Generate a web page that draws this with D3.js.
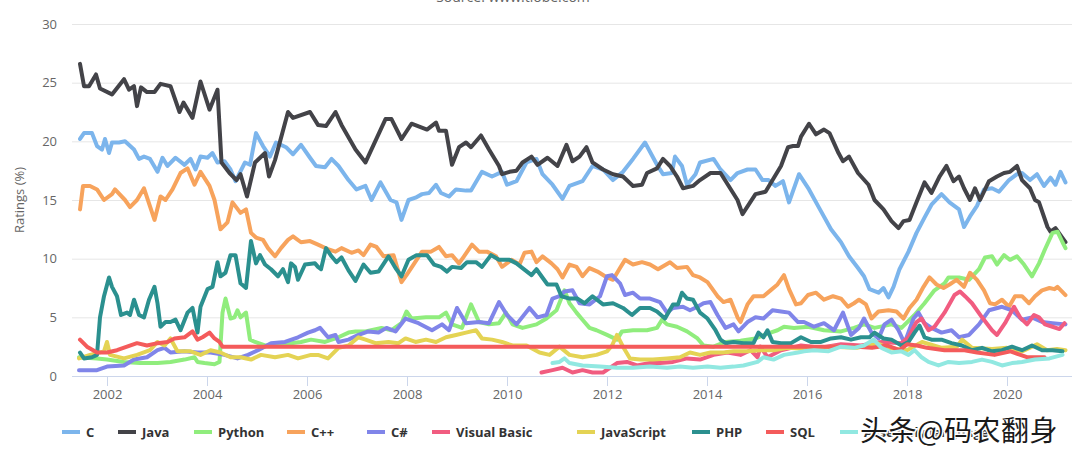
<!DOCTYPE html>
<html><head><meta charset="utf-8">
<script src="https://cdn.jsdelivr.net/npm/d3@7/dist/d3.min.js"></script>
<style>html,body{margin:0;padding:0;background:#fff;overflow:hidden}svg{display:block;font-family:'Open Sans',sans-serif}</style>
</head><body><svg id="c" width="1080" height="459"></svg>
<script>
const seriesNames = ["C","Java","Python","C++","C#","Visual Basic","JavaScript","PHP","SQL","Assembly language"];
const seriesColors = ["#7cb5ec","#434348","#90ed7d","#f7a35c","#8085e9","#f15c80","#e4d354","#2b908f","#f45b5b","#91e8e1"];
const yTicks = [0,5,10,15,20,25,30];
const xTicks = [2002,2004,2006,2008,2010,2012,2014,2016,2018,2020];
const titleText = "Source: www.tiobe.com";
const yTitle = "Ratings (%)";
const watermark = "头条@码农翻身";

const dataC = [[2001.46,20.2],[2001.54,20.7],[2001.70,20.7],[2001.80,19.6],[2001.90,19.3],[2001.96,20.2],[2002.04,19.0],[2002.10,19.9],[2002.24,19.9],[2002.36,20.0],[2002.54,19.3],[2002.64,18.5],[2002.74,18.7],[2002.86,18.5],[2003.01,17.4],[2003.11,18.6],[2003.21,17.9],[2003.37,18.6],[2003.55,18.0],[2003.67,18.5],[2003.77,17.6],[2003.87,18.7],[2004.01,18.6],[2004.11,19.0],[2004.21,18.2],[2004.35,18.3],[2004.47,17.6],[2004.57,16.6],[2004.76,18.2],[2004.86,18.0],[2004.98,20.7],[2005.12,19.6],[2005.26,18.7],[2005.38,19.9],[2005.58,19.5],[2005.72,18.9],[2005.88,19.7],[2006.06,18.6],[2006.18,17.9],[2006.36,17.8],[2006.49,18.5],[2006.63,17.9],[2006.83,16.7],[2006.99,15.9],[2007.17,16.2],[2007.29,15.0],[2007.47,16.5],[2007.67,15.0],[2007.79,14.8],[2007.89,13.3],[2008.03,15.0],[2008.17,15.2],[2008.30,15.5],[2008.44,15.6],[2008.58,16.3],[2008.68,15.6],[2008.84,15.3],[2008.98,15.9],[2009.18,15.8],[2009.28,15.8],[2009.50,17.4],[2009.70,17.0],[2009.90,17.4],[2010.00,16.3],[2010.19,16.6],[2010.39,18.2],[2010.59,18.5],[2010.71,17.2],[2010.91,16.3],[2011.11,15.1],[2011.25,16.2],[2011.51,16.6],[2011.71,17.9],[2011.92,17.6],[2012.12,16.7],[2012.32,17.4],[2012.52,18.5],[2012.76,19.9],[2013.00,18.0],[2013.12,17.2],[2013.30,17.3],[2013.36,18.7],[2013.50,17.9],[2013.60,16.3],[2013.77,17.2],[2013.86,18.2],[2014.13,18.5],[2014.27,17.6],[2014.47,16.7],[2014.61,17.3],[2014.81,17.6],[2014.97,17.6],[2015.11,16.7],[2015.23,16.7],[2015.37,16.2],[2015.52,16.6],[2015.64,14.8],[2015.84,17.2],[2016.04,15.9],[2016.22,14.5],[2016.48,12.5],[2016.68,11.4],[2016.84,10.2],[2017.02,9.2],[2017.14,8.5],[2017.25,7.4],[2017.43,7.1],[2017.53,7.5],[2017.63,6.7],[2017.73,7.6],[2017.85,9.1],[2018.03,10.6],[2018.19,12.2],[2018.35,13.5],[2018.49,14.6],[2018.69,15.5],[2018.85,14.8],[2019.04,14.2],[2019.14,12.7],[2019.26,13.6],[2019.40,14.5],[2019.54,15.9],[2019.70,16.0],[2019.84,15.7],[2020.04,16.7],[2020.20,17.2],[2020.30,17.3],[2020.46,16.7],[2020.60,17.2],[2020.74,16.2],[2020.87,16.9],[2020.97,16.3],[2021.07,17.4],[2021.17,16.5]];

const dataJava = [[2001.46,26.6],[2001.54,24.7],[2001.64,24.7],[2001.78,25.7],[2001.86,24.5],[2002.10,24.0],[2002.34,25.3],[2002.44,24.4],[2002.54,24.7],[2002.60,23.0],[2002.68,24.6],[2002.80,24.2],[2002.95,24.2],[2003.07,24.9],[2003.27,24.7],[2003.45,22.5],[2003.53,23.3],[2003.71,22.0],[2003.87,25.1],[2004.05,22.7],[2004.21,24.4],[2004.29,18.2],[2004.45,17.3],[2004.59,16.7],[2004.67,17.2],[2004.80,15.3],[2004.96,18.2],[2005.16,19.0],[2005.24,17.0],[2005.36,18.4],[2005.62,22.5],[2005.72,22.0],[2006.06,22.5],[2006.22,21.4],[2006.38,21.3],[2006.57,22.5],[2006.69,21.4],[2006.97,19.3],[2007.17,18.2],[2007.57,21.9],[2007.69,21.9],[2007.89,20.2],[2008.09,21.5],[2008.40,21.0],[2008.58,21.6],[2008.64,20.9],[2008.78,20.9],[2008.90,18.0],[2009.04,19.5],[2009.18,19.9],[2009.28,19.5],[2009.48,20.5],[2009.64,19.3],[2009.84,17.9],[2009.90,17.2],[2010.05,17.4],[2010.19,17.5],[2010.31,18.2],[2010.49,18.7],[2010.61,18.0],[2010.81,18.6],[2011.01,17.9],[2011.19,19.7],[2011.31,18.3],[2011.45,18.7],[2011.59,19.5],[2011.71,18.2],[2011.92,17.6],[2012.12,17.2],[2012.32,17.0],[2012.52,16.2],[2012.70,16.3],[2012.80,17.3],[2013.00,17.7],[2013.12,18.5],[2013.26,17.9],[2013.40,17.0],[2013.52,16.0],[2013.72,16.2],[2013.86,16.7],[2014.07,17.3],[2014.27,17.3],[2014.61,15.0],[2014.71,13.8],[2014.97,15.5],[2015.17,15.7],[2015.48,17.9],[2015.62,19.5],[2015.72,19.6],[2015.82,19.6],[2015.88,20.4],[2016.04,21.5],[2016.18,20.6],[2016.34,21.0],[2016.45,20.7],[2016.63,19.0],[2016.72,18.3],[2016.84,18.7],[2017.02,17.3],[2017.23,16.3],[2017.35,15.0],[2017.53,14.2],[2017.69,13.2],[2017.83,12.6],[2017.93,13.2],[2018.05,13.3],[2018.19,14.8],[2018.35,16.5],[2018.49,15.6],[2018.65,17.0],[2018.79,17.9],[2018.93,16.6],[2019.04,17.0],[2019.14,16.0],[2019.26,15.0],[2019.36,16.0],[2019.46,15.0],[2019.64,16.6],[2019.80,17.0],[2019.94,17.3],[2020.06,17.4],[2020.20,17.9],[2020.30,16.7],[2020.46,16.0],[2020.56,15.0],[2020.64,14.8],[2020.81,12.7],[2020.87,12.3],[2020.97,12.6],[2021.07,12.0],[2021.17,11.4]];

const dataPython = [[2001.44,1.6],[2001.80,1.5],[2002.00,1.4],[2002.34,1.2],[2002.66,1.1],[2003.01,1.1],[2003.27,1.2],[2003.55,1.4],[2003.75,1.6],[2003.81,1.2],[2003.95,1.1],[2004.15,1.0],[2004.25,1.2],[2004.31,5.4],[2004.37,6.6],[2004.47,4.9],[2004.55,5.0],[2004.61,5.6],[2004.67,5.0],[2004.78,5.4],[2004.86,3.1],[2004.96,2.9],[2005.16,2.6],[2005.42,2.6],[2005.68,2.8],[2005.88,2.9],[2006.08,3.1],[2006.36,2.9],[2006.63,3.3],[2006.83,3.7],[2006.97,3.8],[2007.17,3.8],[2007.49,4.1],[2007.69,3.9],[2007.89,4.5],[2007.99,5.5],[2008.09,4.9],[2008.38,5.0],[2008.64,5.0],[2008.78,5.4],[2008.90,4.4],[2009.10,4.1],[2009.28,6.1],[2009.44,4.6],[2009.64,4.4],[2009.84,4.5],[2009.98,5.4],[2010.11,4.4],[2010.31,4.1],[2010.59,4.4],[2010.79,4.9],[2010.99,5.6],[2011.15,7.3],[2011.25,6.2],[2011.39,5.4],[2011.51,4.8],[2011.65,4.1],[2011.79,3.9],[2012.00,3.5],[2012.20,3.1],[2012.30,3.8],[2012.52,3.9],[2012.80,3.9],[2013.00,4.1],[2013.10,4.8],[2013.20,4.4],[2013.40,4.2],[2013.60,3.8],[2013.81,3.2],[2013.93,2.6],[2014.13,2.5],[2014.37,2.9],[2014.67,3.0],[2014.97,3.2],[2015.27,3.7],[2015.41,3.9],[2015.54,4.2],[2015.74,4.1],[2016.02,4.2],[2016.34,3.9],[2016.68,3.8],[2016.94,4.1],[2017.14,4.4],[2017.35,4.1],[2017.69,4.4],[2017.89,4.1],[2018.15,5.2],[2018.35,6.2],[2018.55,7.3],[2018.75,7.9],[2018.83,8.4],[2019.04,8.4],[2019.24,8.2],[2019.44,9.1],[2019.56,10.1],[2019.70,10.2],[2019.80,9.5],[2019.94,10.3],[2020.06,9.9],[2020.20,10.2],[2020.34,9.5],[2020.50,8.5],[2020.64,9.6],[2020.76,10.8],[2020.91,12.2],[2021.01,12.3],[2021.11,11.4],[2021.17,10.9]];

const dataCpp = [[2001.46,14.2],[2001.52,16.2],[2001.66,16.2],[2001.80,15.9],[2001.94,15.0],[2002.10,15.5],[2002.16,15.9],[2002.36,15.0],[2002.46,14.4],[2002.60,15.0],[2002.74,16.0],[2002.95,13.3],[2003.07,15.3],[2003.17,15.0],[2003.31,15.9],[2003.47,17.3],[2003.61,17.7],[2003.75,16.3],[2003.87,17.4],[2004.05,16.2],[2004.15,15.0],[2004.27,12.5],[2004.41,13.1],[2004.51,14.8],[2004.67,13.9],[2004.78,14.2],[2004.88,12.2],[2004.98,11.8],[2005.12,11.6],[2005.22,10.9],[2005.36,10.2],[2005.48,10.9],[2005.62,11.6],[2005.72,11.9],[2005.88,11.4],[2006.06,11.5],[2006.22,11.2],[2006.42,10.8],[2006.57,10.6],[2006.69,10.9],[2006.89,10.5],[2007.03,10.7],[2007.13,10.3],[2007.27,11.2],[2007.39,11.0],[2007.53,10.2],[2007.73,10.3],[2007.89,8.0],[2007.99,8.6],[2008.13,9.5],[2008.30,10.6],[2008.48,10.6],[2008.64,11.0],[2008.78,10.2],[2008.90,10.3],[2009.04,9.6],[2009.14,10.2],[2009.30,11.2],[2009.44,10.6],[2009.60,10.6],[2009.78,10.2],[2009.90,9.3],[2010.09,9.9],[2010.25,9.5],[2010.35,10.5],[2010.49,10.6],[2010.59,9.7],[2010.71,10.2],[2010.89,9.6],[2011.01,9.1],[2011.11,8.4],[2011.25,9.5],[2011.39,9.3],[2011.51,8.5],[2011.65,9.2],[2011.81,8.9],[2012.00,8.4],[2012.12,8.2],[2012.26,9.2],[2012.36,9.9],[2012.52,9.5],[2012.70,9.7],[2012.86,9.5],[2013.02,9.1],[2013.26,9.7],[2013.40,9.2],[2013.60,9.3],[2013.72,8.6],[2013.86,8.4],[2014.01,8.0],[2014.21,6.8],[2014.33,6.3],[2014.47,6.5],[2014.61,5.0],[2014.67,4.6],[2014.81,6.1],[2014.93,6.8],[2015.13,6.8],[2015.27,7.3],[2015.41,7.8],[2015.54,8.6],[2015.64,7.4],[2015.78,6.1],[2015.88,6.2],[2016.02,6.9],[2016.18,7.1],[2016.34,6.5],[2016.52,6.8],[2016.68,6.6],[2016.82,5.9],[2016.94,6.2],[2017.04,6.5],[2017.18,6.1],[2017.29,4.9],[2017.43,5.5],[2017.63,5.6],[2017.79,5.5],[2017.93,4.9],[2018.05,5.8],[2018.19,6.5],[2018.33,7.6],[2018.45,8.4],[2018.59,7.8],[2018.73,7.5],[2018.85,7.8],[2018.99,8.2],[2019.14,7.6],[2019.26,8.8],[2019.40,8.2],[2019.54,7.3],[2019.66,6.2],[2019.76,6.1],[2019.90,6.5],[2020.04,5.9],[2020.16,6.8],[2020.30,6.8],[2020.44,6.2],[2020.56,6.8],[2020.70,7.3],[2020.85,7.5],[2020.95,7.4],[2021.01,7.6],[2021.17,6.9]];

const dataCsharp = [[2001.44,0.5],[2001.80,0.5],[2002.00,0.8],[2002.34,0.9],[2002.54,1.4],[2002.80,1.6],[2003.01,2.2],[2003.15,2.4],[2003.27,2.0],[2003.55,2.1],[2003.81,2.0],[2004.07,2.0],[2004.35,1.8],[2004.61,1.5],[2004.82,1.8],[2005.02,2.2],[2005.28,2.8],[2005.56,2.9],[2005.82,3.3],[2006.02,3.7],[2006.16,3.9],[2006.26,4.1],[2006.42,3.3],[2006.57,3.5],[2006.63,2.9],[2006.83,3.1],[2007.03,3.5],[2007.23,3.8],[2007.43,3.7],[2007.59,4.1],[2007.77,3.8],[2007.97,4.9],[2008.23,4.5],[2008.50,3.9],[2008.70,4.4],[2008.84,3.9],[2009.00,5.8],[2009.18,4.5],[2009.44,4.6],[2009.64,4.5],[2009.84,6.3],[2010.00,5.2],[2010.19,4.4],[2010.45,5.8],[2010.61,5.0],[2010.79,5.2],[2010.91,6.6],[2011.05,6.8],[2011.15,7.2],[2011.31,7.3],[2011.45,6.2],[2011.65,6.1],[2011.86,6.8],[2012.00,8.5],[2012.10,8.6],[2012.26,7.9],[2012.36,6.9],[2012.52,7.1],[2012.66,6.6],[2012.86,6.6],[2013.06,6.3],[2013.20,5.4],[2013.32,5.8],[2013.52,5.9],[2013.66,5.6],[2013.81,5.9],[2013.93,6.2],[2014.07,6.3],[2014.21,5.2],[2014.37,4.1],[2014.53,4.4],[2014.63,3.8],[2014.81,4.6],[2014.97,5.0],[2015.13,4.9],[2015.31,5.6],[2015.48,5.5],[2015.64,5.4],[2015.82,4.6],[2015.94,4.6],[2016.14,4.2],[2016.34,4.5],[2016.54,3.9],[2016.72,5.4],[2016.88,3.5],[2017.04,4.1],[2017.14,4.9],[2017.29,3.7],[2017.43,3.2],[2017.55,4.4],[2017.69,4.8],[2017.83,3.9],[2017.95,2.8],[2018.13,4.9],[2018.23,5.4],[2018.35,4.5],[2018.49,4.1],[2018.69,3.7],[2018.89,3.9],[2019.04,3.3],[2019.24,3.5],[2019.44,4.4],[2019.64,5.6],[2019.90,5.9],[2020.10,5.6],[2020.30,4.8],[2020.50,5.0],[2020.70,4.6],[2020.91,4.5],[2021.17,4.4]];

const dataVB = [[2010.69,0.3],[2010.91,0.5],[2011.11,0.7],[2011.31,0.3],[2011.51,0.5],[2011.71,0.3],[2011.92,0.3],[2012.20,1.1],[2012.40,1.2],[2012.60,0.9],[2012.86,1.1],[2013.06,1.1],[2013.32,1.2],[2013.60,1.5],[2013.86,1.4],[2014.13,1.8],[2014.41,2.0],[2014.67,1.8],[2014.87,2.2],[2015.01,1.6],[2015.07,2.5],[2015.21,1.6],[2015.48,2.2],[2015.88,2.6],[2016.28,2.4],[2016.68,2.7],[2017.08,2.6],[2017.49,2.9],[2017.89,2.8],[2018.03,3.3],[2018.19,4.6],[2018.29,4.9],[2018.43,3.9],[2018.55,4.2],[2018.75,5.4],[2018.95,6.9],[2019.06,7.2],[2019.16,6.8],[2019.30,6.2],[2019.50,5.0],[2019.70,3.9],[2019.80,3.5],[2019.96,4.5],[2020.14,5.9],[2020.26,5.0],[2020.40,4.4],[2020.54,5.2],[2020.64,5.0],[2020.76,4.4],[2020.91,4.2],[2021.05,4.0],[2021.15,4.5]];

const dataJS = [[2001.44,1.5],[2001.66,1.8],[2001.94,2.1],[2002.00,2.9],[2002.06,1.8],[2002.34,1.5],[2002.60,1.8],[2002.86,2.2],[2003.01,2.9],[2003.15,2.6],[2003.27,3.2],[2003.41,2.1],[2003.67,2.1],[2003.87,1.8],[2004.07,2.2],[2004.27,2.0],[2004.47,1.6],[2004.67,1.6],[2004.88,1.4],[2005.08,1.8],[2005.36,1.6],[2005.62,1.8],[2005.82,1.5],[2006.08,1.8],[2006.22,1.8],[2006.42,1.5],[2006.63,2.4],[2006.83,2.6],[2007.03,3.3],[2007.17,3.1],[2007.37,2.8],[2007.63,2.9],[2007.83,2.8],[2007.97,3.2],[2008.17,2.9],[2008.38,3.1],[2008.58,2.9],[2008.78,3.3],[2008.98,3.5],[2009.18,3.7],[2009.38,3.9],[2009.50,3.2],[2009.70,3.1],[2009.90,2.9],[2010.11,2.6],[2010.39,2.6],[2010.65,2.0],[2010.85,1.8],[2011.05,2.5],[2011.25,1.8],[2011.51,1.6],[2011.79,1.8],[2012.00,2.1],[2012.10,2.6],[2012.20,3.5],[2012.32,2.5],[2012.46,1.5],[2012.66,1.4],[2012.92,1.4],[2013.20,1.5],[2013.46,1.6],[2013.66,2.0],[2013.86,1.8],[2014.07,2.0],[2014.33,2.0],[2014.53,2.1],[2014.81,2.1],[2015.07,2.2],[2015.33,2.2],[2015.62,2.4],[2016.00,2.3],[2016.50,2.5],[2017.00,2.4],[2017.40,2.8],[2017.60,2.4],[2018.00,2.2],[2018.30,2.9],[2018.70,2.4],[2019.00,2.5],[2019.10,3.1],[2019.30,2.4],[2019.70,2.3],[2020.00,2.4],[2020.30,2.1],[2020.60,2.7],[2020.80,2.2],[2021.00,2.3],[2021.17,2.2]];

const dataPHP = [[2001.46,2.0],[2001.54,1.5],[2001.70,1.6],[2001.80,1.8],[2001.86,5.0],[2001.94,6.8],[2002.04,8.4],[2002.10,7.6],[2002.20,6.8],[2002.28,5.2],[2002.40,5.4],[2002.46,5.2],[2002.54,6.5],[2002.64,5.2],[2002.74,5.0],[2002.84,6.5],[2002.95,7.6],[2003.01,6.2],[2003.07,4.2],[2003.17,4.6],[2003.27,4.6],[2003.37,4.8],[2003.47,3.9],[2003.61,5.4],[2003.71,5.8],[2003.81,3.7],[2003.87,5.9],[2004.01,7.4],[2004.11,7.6],[2004.21,9.7],[2004.27,8.5],[2004.37,8.8],[2004.47,10.3],[2004.57,10.3],[2004.67,7.9],[2004.78,7.5],[2004.88,11.5],[2004.98,9.6],[2005.06,10.3],[2005.16,9.5],[2005.28,9.1],[2005.42,8.5],[2005.52,9.1],[2005.62,8.0],[2005.68,9.6],[2005.76,9.3],[2005.82,8.2],[2005.96,9.5],[2006.16,9.6],[2006.22,9.3],[2006.28,9.1],[2006.38,10.9],[2006.49,10.2],[2006.59,9.7],[2006.69,10.1],[2006.83,9.0],[2006.97,8.1],[2007.13,9.5],[2007.27,8.8],[2007.43,8.9],[2007.63,10.2],[2007.77,9.2],[2007.89,8.5],[2008.03,9.9],[2008.19,10.3],[2008.40,10.3],[2008.54,9.5],[2008.68,9.3],[2008.80,8.9],[2008.90,9.3],[2009.08,9.2],[2009.20,9.7],[2009.38,9.7],[2009.50,9.3],[2009.68,10.3],[2009.84,9.9],[2010.05,9.9],[2010.19,9.6],[2010.31,9.2],[2010.49,8.6],[2010.59,9.1],[2010.69,8.5],[2010.81,7.8],[2010.99,7.8],[2011.09,6.8],[2011.25,6.6],[2011.41,6.6],[2011.55,6.2],[2011.71,6.8],[2011.92,6.1],[2012.12,6.2],[2012.32,5.8],[2012.50,5.2],[2012.66,5.8],[2012.86,5.8],[2013.00,5.5],[2013.16,4.9],[2013.32,6.1],[2013.42,6.1],[2013.50,7.1],[2013.60,6.6],[2013.72,6.5],[2013.86,5.4],[2014.01,4.9],[2014.17,3.9],[2014.27,3.1],[2014.37,2.8],[2014.53,2.9],[2014.73,2.8],[2014.93,2.8],[2015.03,3.7],[2015.13,3.3],[2015.21,3.9],[2015.31,2.9],[2015.48,2.8],[2015.68,2.8],[2015.88,3.3],[2016.08,2.9],[2016.28,2.9],[2016.48,3.2],[2016.68,3.3],[2016.88,3.1],[2017.08,3.3],[2017.25,3.3],[2017.35,3.7],[2017.53,3.2],[2017.69,3.1],[2017.89,2.6],[2018.03,2.9],[2018.15,3.7],[2018.25,4.3],[2018.35,3.3],[2018.49,3.1],[2018.69,3.1],[2018.89,2.8],[2019.10,2.6],[2019.30,2.2],[2019.50,2.4],[2019.70,2.1],[2019.90,2.2],[2020.10,2.5],[2020.30,2.2],[2020.50,2.6],[2020.70,2.2],[2020.91,2.2],[2021.11,2.1]];

const dataSQL = [[2001.46,3.1],[2001.60,2.5],[2001.80,2.0],[2002.00,2.0],[2002.20,2.2],[2002.40,2.5],[2002.60,2.8],[2002.80,2.6],[2003.01,2.8],[2003.21,2.9],[2003.35,3.2],[2003.55,3.3],[2003.71,3.8],[2003.81,3.1],[2003.91,3.3],[2004.05,3.7],[2004.15,3.2],[2004.25,2.9],[2004.31,2.5],[2017.00,2.5],[2017.30,2.4],[2017.60,2.6],[2017.85,2.2],[2018.00,2.7],[2018.20,2.6],[2018.40,2.4],[2018.75,2.2],[2019.15,2.2],[2019.40,2.0],[2019.75,1.8],[2020.07,2.1],[2020.40,1.6],[2020.75,1.6]];

const dataAsm = [[2010.91,1.1],[2011.05,1.2],[2011.15,1.5],[2011.25,1.1],[2011.51,0.9],[2011.86,0.8],[2012.20,0.7],[2012.52,0.7],[2012.86,0.8],[2013.20,0.7],[2013.46,0.8],[2013.72,0.7],[2014.01,0.8],[2014.27,0.7],[2014.53,0.8],[2014.73,0.9],[2015.01,1.2],[2015.13,1.6],[2015.33,1.4],[2015.54,1.8],[2015.82,2.0],[2015.94,2.1],[2016.14,2.2],[2016.42,2.1],[2016.68,2.5],[2016.94,2.4],[2017.14,2.6],[2017.33,3.1],[2017.49,2.4],[2017.69,2.0],[2017.89,2.1],[2018.03,1.8],[2018.15,2.2],[2018.29,1.6],[2018.43,1.2],[2018.63,0.9],[2018.83,1.2],[2019.04,1.1],[2019.30,1.2],[2019.50,1.4],[2019.70,1.2],[2019.90,0.9],[2020.10,1.1],[2020.30,1.2],[2020.56,1.4],[2020.85,1.5],[2021.11,1.8]];

const seriesData = [dataC, dataJava, dataPython, dataCpp, dataCsharp, dataVB, dataJS, dataPHP, dataSQL, dataAsm];

const svg = d3.select("#c");
const W = 1080, H = 459;
const plot = {left:72, right:1072, top:24, bottom:376};

const x = d3.scaleLinear().domain([2001.3, 2021.3]).range([plot.left, plot.right]);
const y = d3.scaleLinear().domain([0, 30]).range([plot.bottom, plot.top]);

svg.append("rect").attr("width", W).attr("height", H).attr("fill", "#fff");

// title (cut off at top, as in the reference)
svg.append("text").attr("x", 513).attr("y", 2).attr("text-anchor", "middle")
  .attr("font-size", 14).attr("fill", "#666").text(titleText);

// y gridlines + labels
const yAxis = d3.axisLeft(y).tickValues(yTicks).tickSize(-(plot.right - plot.left)).tickPadding(15);
const gy = svg.append("g").attr("transform", `translate(${plot.left},0)`).call(yAxis);
gy.select(".domain").remove();
gy.selectAll(".tick line").attr("stroke", "#e6e6e6").attr("stroke-width", 1)
  .attr("display", d => d === 0 ? "none" : null);
gy.selectAll(".tick text").attr("font-size", 13).attr("fill", "#666").attr("font-family", "'Open Sans',sans-serif");

// x axis
const xAxis = d3.axisBottom(x).tickValues(xTicks).tickFormat(d3.format("d")).tickSize(10).tickPadding(4);
const gx = svg.append("g").attr("transform", `translate(0,${plot.bottom})`).call(xAxis);
gx.select(".domain").attr("stroke", "#ccd6eb").attr("d", `M${plot.left},0.5H${plot.right}`);
gx.selectAll(".tick line").attr("stroke", "#ccd6eb");
gx.selectAll(".tick text").attr("font-size", 13).attr("fill", "#666").attr("font-family", "'Open Sans',sans-serif");

// y title
svg.append("text").attr("transform", `translate(24,${(plot.top + plot.bottom) / 2}) rotate(-90)`)
  .attr("text-anchor", "middle").attr("font-size", 13).attr("fill", "#666").text(yTitle);

// lines
const line = d3.line().x(d => x(d[0])).y(d => y(d[1])).curve(d3.curveLinear);
svg.append("defs").append("clipPath").attr("id", "pc").append("rect")
  .attr("x", plot.left).attr("y", 0).attr("width", plot.right - plot.left).attr("height", plot.bottom + 2);
const gl = svg.append("g").attr("clip-path", "url(#pc)");
seriesData.forEach((data, i) => {
  gl.append("path").datum(data).attr("d", line).attr("fill", "none")
    .attr("stroke", seriesColors[i]).attr("stroke-width", 4)
    .attr("stroke-linejoin", "round").attr("stroke-linecap", "round");
});

// legend
const legendX = [62, 118, 194, 287, 367, 432, 577, 692, 766, 840];
const lg = svg.append("g");
seriesNames.forEach((name, i) => {
  const gx0 = legendX[i];
  lg.append("line").attr("x1", gx0).attr("x2", gx0 + 18).attr("y1", 432).attr("y2", 432)
    .attr("stroke", seriesColors[i]).attr("stroke-width", 4);
  lg.append("text").attr("x", gx0 + 24).attr("y", 436.5).attr("font-size", 13).attr("font-weight", 700)
    .attr("fill", "#333").text(name);
});

// watermark over the last legend item, as in the reference
svg.append("text").attr("x", 860).attr("y", 441)
  .attr("font-family", "'Noto Sans CJK SC',sans-serif").attr("font-size", 28)
  .attr("fill", "#1a1a1a").attr("stroke", "#fff").attr("stroke-width", 3)
  .attr("paint-order", "stroke").attr("letter-spacing", 0.5).text(watermark);
</script>
</body></html>
